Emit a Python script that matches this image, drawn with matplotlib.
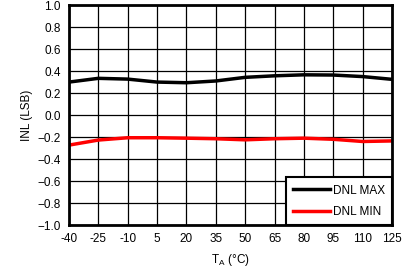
import matplotlib.pyplot as plt

# Temperature sweep and measured limits
temps = [-40, -25, -10, 5, 20, 35, 50, 65, 80, 95, 110, 125]
dnl_max = [0.30, 0.334, 0.327, 0.30, 0.294, 0.31, 0.343, 0.357, 0.366, 0.364, 0.35, 0.325]
dnl_min = [-0.273, -0.227, -0.206, -0.206, -0.21, -0.215, -0.225, -0.215, -0.21, -0.22, -0.24, -0.235]
yticks = [-1.0, -0.8, -0.6, -0.4, -0.2, 0.0, 0.2, 0.4, 0.6, 0.8, 1.0]

plt.rcParams['font.family'] = ['Liberation Sans', 'DejaVu Sans']
plt.rcParams['font.size'] = 8.5

fig = plt.figure(figsize=(4.07, 2.67), dpi=100)
ax = fig.add_axes([0.1695, 0.157, 0.7935, 0.824])

ax.plot(temps, dnl_max, color='black', linewidth=2.5, label='DNL MAX')
ax.plot(temps, dnl_min, color='#ff0000', linewidth=2.5, label='DNL MIN')

ax.set_xlim(-40, 125)
ax.set_ylim(-1.0, 1.0)
ax.set_xticks(temps)
ax.set_xticklabels([str(t) for t in temps])
ax.set_yticks(yticks)
ax.set_yticklabels([f'{v:.1f}'.replace('-', '\u2212') for v in yticks])
ax.tick_params(length=0, pad=6)
ax.grid(True, color='black', linewidth=0.9)
for s in ax.spines.values():
    s.set_linewidth(2)

ax.set_xlabel(r'$\mathregular{T_A}$ (°C)', labelpad=5)
ax.set_ylabel('INL (LSB)', labelpad=3)

leg = ax.legend(loc='lower right', borderaxespad=0, fancybox=False,
                framealpha=1, edgecolor='black', handlelength=3.2,
                handletextpad=0.2, borderpad=0.6, labelspacing=0.8)
leg.get_frame().set_linewidth(1.5)

plt.savefig('out.png', dpi=100)
